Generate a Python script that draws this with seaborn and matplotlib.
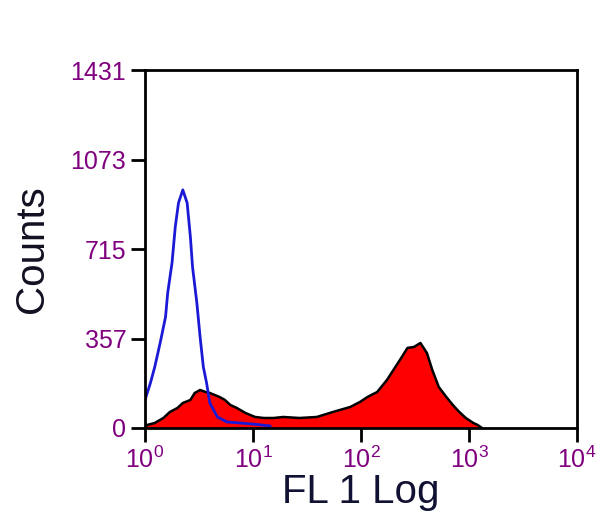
import numpy as np
import matplotlib
matplotlib.use("Agg")
import matplotlib.pyplot as plt
import seaborn as sns

# Histograma de citometria (FL 1 Log) - valores leidos del grafico
# posiciones en decadas log10 del canal
blue_log = [0.00, 0.05, 0.09, 0.14, 0.19, 0.21, 0.25, 0.28, 0.31, 0.35, 0.39,
            0.42, 0.44, 0.48, 0.51, 0.54, 0.57, 0.60, 0.67, 0.76, 0.88, 1.04, 1.16]
blue_counts = [112, 180, 244, 340, 444, 540, 660, 804, 900, 952, 900,
               764, 644, 500, 364, 244, 180, 100, 44, 24, 20, 14, 8]

red_log = [0.00, 0.02, 0.09, 0.17, 0.23, 0.30, 0.35, 0.42, 0.46, 0.51, 0.56,
           0.60, 0.69, 0.74, 0.79, 0.85, 0.93, 1.02, 1.10, 1.19, 1.28, 1.43,
           1.59, 1.74, 1.90, 1.99, 2.06, 2.15, 2.24, 2.30, 2.36, 2.43, 2.49,
           2.55, 2.61, 2.66, 2.72, 2.79, 2.85, 2.91, 2.97, 3.04, 3.08, 3.12]
red_counts = [0, 12, 20, 40, 64, 80, 100, 112, 140, 152, 144,
              140, 124, 112, 92, 80, 60, 44, 40, 40, 44, 40,
              44, 64, 84, 104, 124, 144, 192, 232, 272, 320, 324,
              340, 300, 232, 164, 124, 92, 64, 40, 20, 12, 0]

y_ticks = [0, 357, 715, 1073, 1431]
x_ticks = [1, 10, 100, 1000, 10000]

sns.set_theme(style="ticks")
plt.rcParams["font.family"] = ["Liberation Sans", "DejaVu Sans"]

fig = plt.figure(figsize=(6, 5.31), dpi=100)
ax = fig.add_axes([0.2417, 0.194, 0.72, 0.674])

red_x = 10 ** np.array(red_log)
blue_x = 10 ** np.array(blue_log)

ax.fill_between(red_x, red_counts, color="#ff0000", linewidth=0)
sns.lineplot(x=red_x, y=red_counts, ax=ax, color="black", linewidth=1.8)
sns.lineplot(x=blue_x, y=blue_counts, ax=ax, color="#1a1ad6", linewidth=2)

ax.set_xscale("log")
ax.set_xlim(1, 10000)
ax.set_ylim(0, 1431)
ax.set_xticks(x_ticks)
ax.set_yticks(y_ticks)
ax.minorticks_off()
ax.tick_params(axis="both", direction="out", length=10, width=2,
               colors="black", labelcolor="#800080", labelsize=18)
for s in ax.spines.values():
    s.set_linewidth(2)
    s.set_color("black")

ax.set_ylabel("Counts", fontsize=29, color="#111122", labelpad=14)
ax.set_xlabel("FL 1 Log", fontsize=29, color="#111133", labelpad=0)

fig.savefig("out.png", dpi=100)
